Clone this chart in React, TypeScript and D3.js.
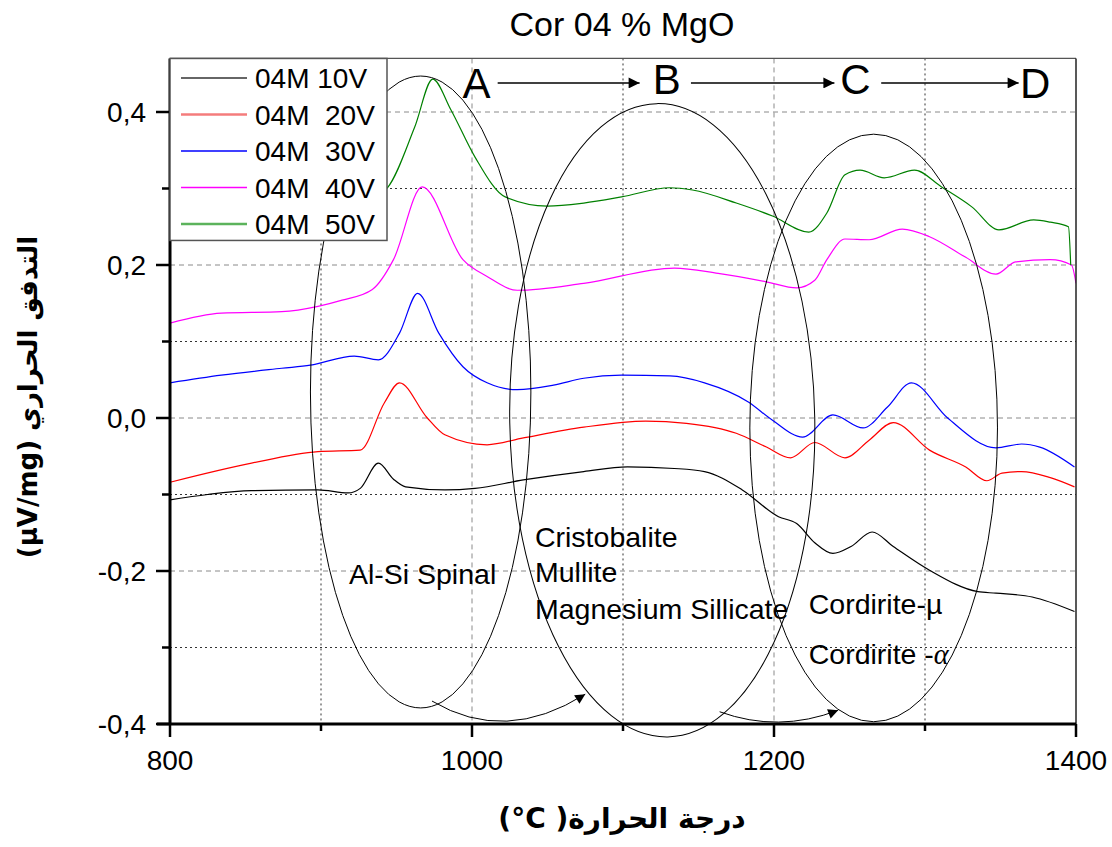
import React from 'react';
import * as d3 from 'd3';

// ---- data (temperature °C, heat flow µV/mg) ----
const t10 = [800, 825, 854, 898, 918, 926, 938, 948, 956, 982, 1002, 1034, 1074, 1103, 1134, 1154, 1179, 1203, 1215, 1227, 1239, 1251, 1265, 1279, 1303, 1335, 1347, 1371, 1399];
const v10 = [-0.107, -0.1, -0.095, -0.094, -0.098, -0.092, -0.059, -0.08, -0.09, -0.094, -0.092, -0.081, -0.07, -0.064, -0.066, -0.07, -0.094, -0.129, -0.138, -0.163, -0.177, -0.168, -0.149, -0.168, -0.199, -0.227, -0.229, -0.234, -0.253];

const t20 = [800, 854, 898, 926, 942, 952, 970, 982, 1010, 1034, 1074, 1115, 1142, 1175, 1195, 1211, 1227, 1247, 1263, 1279, 1303, 1327, 1341, 1351, 1364, 1383, 1399];
const v20 = [-0.084, -0.059, -0.044, -0.042, 0.02, 0.046, 0.001, -0.022, -0.035, -0.026, -0.012, -0.004, -0.007, -0.02, -0.038, -0.052, -0.032, -0.052, -0.029, -0.006, -0.042, -0.064, -0.082, -0.072, -0.07, -0.078, -0.09];

const t30 = [800, 834, 874, 893, 922, 938, 952, 964, 978, 994, 1010, 1030, 1054, 1074, 1099, 1131, 1154, 1183, 1199, 1219, 1239, 1259, 1275, 1291, 1315, 1347, 1364, 1376, 1399];
const v30 = [0.046, 0.056, 0.065, 0.069, 0.081, 0.076, 0.111, 0.163, 0.111, 0.067, 0.046, 0.037, 0.043, 0.052, 0.056, 0.055, 0.046, 0.021, -0.003, -0.025, 0.004, -0.013, 0.014, 0.046, 0.0, -0.039, -0.034, -0.038, -0.064];

const t40 = [800, 834, 874, 898, 914, 934, 948, 967, 994, 1010, 1030, 1074, 1134, 1163, 1195, 1215, 1227, 1235, 1247, 1263, 1285, 1303, 1327, 1347, 1360, 1383, 1397, 1400];
const v40 = [0.124, 0.137, 0.139, 0.146, 0.154, 0.168, 0.207, 0.302, 0.207, 0.185, 0.167, 0.176, 0.196, 0.189, 0.178, 0.17, 0.18, 0.207, 0.234, 0.233, 0.247, 0.237, 0.21, 0.188, 0.204, 0.207, 0.2, 0.176];

const t50 = [800, 860, 910, 935, 944, 962, 974, 986, 1002, 1022, 1050, 1074, 1099, 1131, 1146, 1175, 1199, 1223, 1235, 1247, 1257, 1273, 1293, 1311, 1331, 1349, 1372, 1383, 1395, 1396.5];
const v50 = [0.245, 0.255, 0.268, 0.29, 0.301, 0.38, 0.443, 0.403, 0.341, 0.289, 0.277, 0.281, 0.289, 0.301, 0.298, 0.281, 0.264, 0.243, 0.268, 0.318, 0.324, 0.314, 0.324, 0.302, 0.276, 0.246, 0.259, 0.256, 0.25, 0.2];

const seriesNames = ['04M 10V', '04M  20V', '04M  30V', '04M  40V', '04M  50V'];
const seriesColors = ['#000000', '#ff0000', '#0000ff', '#ff00ff', '#008000'];
const legendColors = ['#333333', '#f47c7c', '#0000ff', '#ff00ff', '#5cb35c'];
const legendWidths = [1.5, 2.5, 1.5, 1.5, 2.5];

const xTicks = [800, 900, 1000, 1100, 1200, 1300, 1400];
const xLabeled = [800, 1000, 1200, 1400];
const yTicks = [-0.4, -0.3, -0.2, -0.1, 0.0, 0.1, 0.2, 0.3, 0.4];
const yLabeled = [-0.4, -0.2, 0.0, 0.2, 0.4];

// annotations (in data units)
const ellipses = [
  { cx: 966, cy: 0.034, rx: 73, ry: 0.413, rot: 0 },
  { cx: 1126, cy: -0.003, rx: 101, ry: 0.414, rot: -1 },
  { cx: 1266, cy: -0.013, rx: 82, ry: 0.384, rot: 0 },
];
const stageLetters = [
  { t: 1003, v: 0.418, s: 'A' },
  { t: 1129, v: 0.424, s: 'B' },
  { t: 1254, v: 0.424, s: 'C' },
  { t: 1373, v: 0.418, s: 'D' },
];
const stageArrows = [
  { t0: 1017, t1: 1111, v: 0.438 },
  { t0: 1145, t1: 1240, v: 0.438 },
  { t0: 1271, t1: 1362, v: 0.438 },
];
const curvedArrows = [
  { p0: [973.5, -0.37], c: [1022, -0.427], p1: [1075, -0.361] },
  { p0: [1164, -0.384], c: [1203, -0.412], p1: [1242.5, -0.382] },
];
const phaseLabels = [
  { t: 918.5, v: -0.217, s: 'Al-Si Spinal' },
  { t: 1041.7, v: -0.169, s: 'Cristobalite' },
  { t: 1041.7, v: -0.214, s: 'Mullite' },
  { t: 1041.7, v: -0.263, s: 'Magnesium Sillicate' },
  { t: 1223, v: -0.256, s: 'Cordirite-µ' },
];

const W = 1112;
const H = 847;
const X0 = 170, X1 = 1076, Y0 = 724;
const YMAX = 0.47;

export default function App() {
  const x = d3.scaleLinear().domain([800, 1400]).range([X0, X1]);
  const y = d3.scaleLinear().domain([-0.4, YMAX]).range([Y0, Y0 - 765 * (YMAX + 0.4)]);
  const yTop = y(YMAX);

  const series = [
    [t10, v10], [t20, v20], [t30, v30], [t40, v40], [t50, v50],
  ];
  const line = d3.line<[number, number]>().x(d => x(d[0])).y(d => y(d[1])).curve(d3.curveMonotoneX);

  const fmt = (v: number) => (v < 0 ? '-' : '') + Math.abs(v).toFixed(1).replace('.', ',');
  const isMajorY = (v: number) => yLabeled.some(l => Math.abs(l - v) < 1e-9);
  const isMajorX = (t: number) => xLabeled.includes(t);
  const latin = 'Liberation Sans, Arial, sans-serif';

  return (
    <svg width={W} height={H} style={{ position: 'absolute', left: 0, top: 0, background: '#fff' }} fontFamily={latin}>
      <defs>
        <marker id="ah" viewBox="0 0 10 10" refX="10" refY="5" markerWidth="15" markerHeight="10" markerUnits="userSpaceOnUse" orient="auto">
          <path d="M0,0 L10,5 L0,10 z" fill="#000" />
        </marker>
        <marker id="ah2" viewBox="0 0 10 10" refX="10" refY="5" markerWidth="16" markerHeight="11" markerUnits="userSpaceOnUse" orient="auto">
          <path d="M0,0 L10,5 L0,10 z" fill="#000" />
        </marker>
        <clipPath id="plot">
          <rect x={X0} y={yTop} width={X1 - X0} height={Y0 - yTop} />
        </clipPath>
      </defs>
      <rect x={0} y={0} width={W} height={H} fill="#fff" />

      {/* title */}
      <text x={622} y={36} textAnchor="middle" fontSize={34}>Cor 04 % MgO</text>

      {/* gridlines */}
      {xTicks.filter(t => t > 800 && t < 1400).map(t => (
        <line key={'gx' + t} x1={x(t)} x2={x(t)} y1={yTop} y2={Y0}
          stroke={isMajorX(t) ? '#8a8a8a' : '#333'} strokeWidth={1}
          strokeDasharray={isMajorX(t) ? '5,4' : '2,3'} />
      ))}
      {yTicks.filter(v => v > -0.4).map(v => (
        <line key={'gy' + v} x1={X0} x2={X1} y1={y(v)} y2={y(v)}
          stroke={isMajorY(v) ? '#8a8a8a' : '#333'} strokeWidth={1}
          strokeDasharray={isMajorY(v) ? '5,4' : '2,3'} />
      ))}

      {/* series */}
      <g clipPath="url(#plot)">
        {series.map((s, i) => (
          <path key={i} d={line(s[0].map((t, j) => [t, s[1][j]]) as [number, number][]) || ''}
            fill="none" stroke={seriesColors[i]} strokeWidth={1.2} />
        ))}
      </g>

      {/* ellipses */}
      {ellipses.map((e, i) => (
        <ellipse key={'e' + i} cx={x(e.cx)} cy={y(e.cy)}
          rx={x(e.cx + e.rx) - x(e.cx)} ry={y(e.cy - e.ry) - y(e.cy)}
          transform={`rotate(${e.rot} ${x(e.cx)} ${y(e.cy)})`}
          fill="none" stroke="#000" strokeWidth={1} />
      ))}

      {/* frame */}
      <line x1={X0} x2={X1} y1={yTop} y2={yTop} stroke="#555" strokeWidth={1.2} />
      <line x1={X1} x2={X1} y1={yTop} y2={Y0} stroke="#222" strokeWidth={1.5} />
      <line x1={X0} x2={X0} y1={yTop} y2={Y0 + 1} stroke="#000" strokeWidth={3} />
      <line x1={157} x2={X1} y1={Y0} y2={Y0} stroke="#000" strokeWidth={3} />

      {/* x ticks */}
      {xTicks.map(t => (
        <line key={'xt' + t} x1={x(t)} x2={x(t)} y1={Y0} y2={Y0 + (isMajorX(t) ? 13 : 7)} stroke="#000" strokeWidth={2.5} />
      ))}
      {xLabeled.map(t => (
        <text key={'xl' + t} x={x(t)} y={770} textAnchor="middle" fontSize={28}>{t}</text>
      ))}
      {/* y ticks */}
      {yTicks.map(v => (
        <line key={'yt' + v} x1={X0 - (isMajorY(v) ? 14 : 8)} x2={X0} y1={y(v)} y2={y(v)} stroke="#000" strokeWidth={2.5} />
      ))}
      {yLabeled.map(v => (
        <text key={'yl' + v} x={146} y={y(v) + 10} textAnchor="end" fontSize={28}>{fmt(v)}</text>
      ))}

      {/* axis titles */}
      <text x={622} y={828} textAnchor="middle" fontSize={28} fontWeight="bold"
        fontFamily="DejaVu Sans, sans-serif" style={{ direction: 'rtl', unicodeBidi: 'embed' }}>
        {'درجة الحرارة( \u200E°C)'}
      </text>
      <text transform="translate(37,397) rotate(-90)" textAnchor="middle" fontSize={26} fontWeight="bold"
        fontFamily="DejaVu Sans, sans-serif" style={{ direction: 'rtl', unicodeBidi: 'embed' }}>
        التدفق الحراري (µV/mg)
      </text>

      {/* stage letters & arrows */}
      {stageLetters.map(l => (
        <text key={l.s} x={x(l.t)} y={y(l.v)} textAnchor="middle" fontSize={42}>{l.s}</text>
      ))}
      {stageArrows.map((a, i) => (
        <line key={'sa' + i} x1={x(a.t0)} x2={x(a.t1)} y1={y(a.v)} y2={y(a.v)} stroke="#000" strokeWidth={1.5} markerEnd="url(#ah2)" />
      ))}
      {curvedArrows.map((a, i) => (
        <path key={'ca' + i}
          d={`M${x(a.p0[0])},${y(a.p0[1])} Q${x(a.c[0])},${y(a.c[1])} ${x(a.p1[0])},${y(a.p1[1])}`}
          fill="none" stroke="#000" strokeWidth={1} markerEnd="url(#ah)" />
      ))}

      {/* phase labels */}
      {phaseLabels.map((p, i) => (
        <text key={'pl' + i} x={x(p.t)} y={y(p.v)} fontSize={28.5}>{p.s}</text>
      ))}
      <text x={x(1223)} y={y(-0.322)} fontSize={28.5}>
        Cordirite -<tspan fontFamily="Liberation Serif, serif" fontStyle="italic">α</tspan>
      </text>

      {/* legend */}
      <rect x={X0} y={yTop} width={217} height={182} fill="#fff" stroke="#555" strokeWidth={1.5} />
      {seriesNames.map((n, i) => {
        const ly = 78 + i * 36.5;
        return (
          <g key={'lg' + i}>
            <line x1={181} x2={247} y1={ly} y2={ly} stroke={legendColors[i]} strokeWidth={legendWidths[i]} />
            <text x={255} y={ly + 10} fontSize={28} style={{ whiteSpace: 'pre' }}>{n}</text>
          </g>
        );
      })}
    </svg>
  );
}
